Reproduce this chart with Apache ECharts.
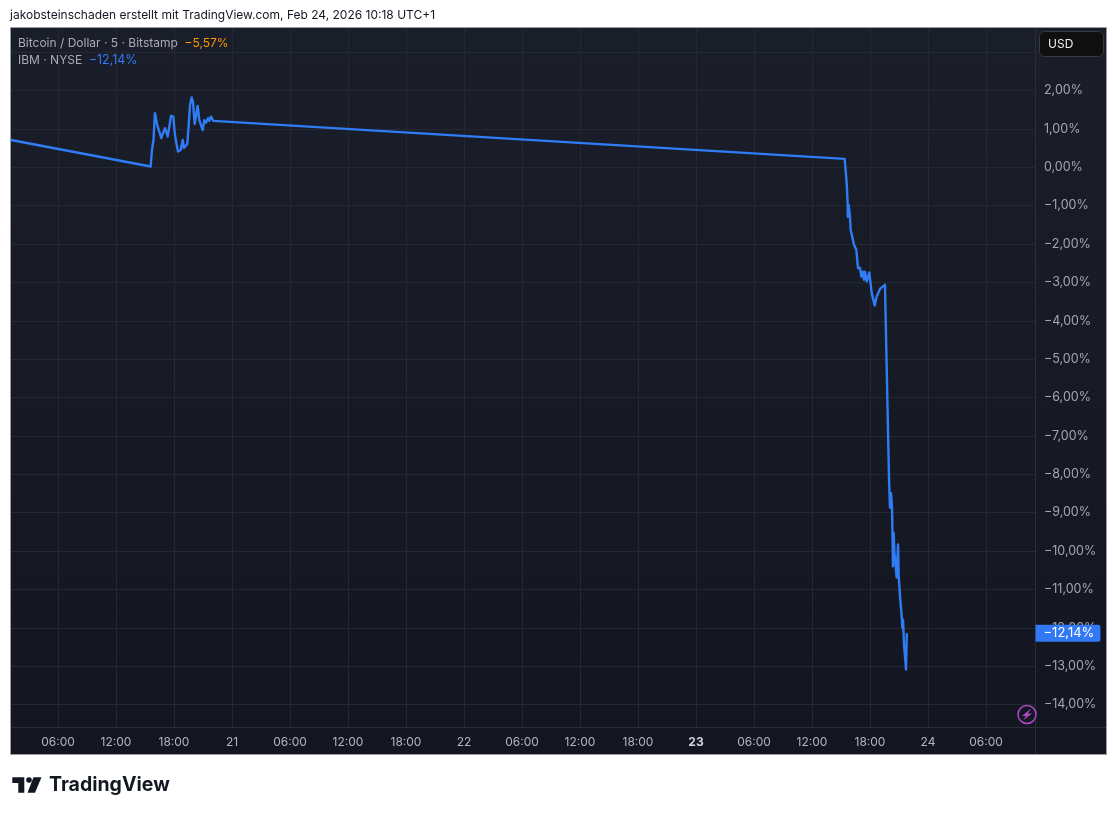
<!DOCTYPE html>
<html><head><meta charset="utf-8">
<style>html,body{margin:0;padding:0;background:#fff}#c{width:1117px;height:815px}</style>
<script src="https://cdn.jsdelivr.net/npm/echarts@6/dist/echarts.min.js"></script>
</head><body><div id="c"></div>
<script>
const headerText = 'jakobsteinschaden erstellt mit TradingView.com, Feb 24, 2026 10:18 UTC+1';
// hours since Feb 20 00:00 on the chart's (session-compressed) axis
const hours = [1.14,15.59,15.72,15.88,16.03,16.27,16.45,16.69,16.86,17.07,17.35,17.69,17.93,18.10,18.41,18.69,18.90,19.03,19.38,19.52,19.66,19.83,19.97,20.14,20.45,20.62,20.79,20.97,21.13,21.31,21.52,21.65,21.83,22.07,87.38,87.59,87.69,87.70,87.80,87.93,88.00,88.17,88.35,88.59,88.76,88.97,89.10,89.25,89.38,89.49,89.66,89.93,90.18,90.49,90.69,90.86,91.04,91.32,91.55,91.68,91.97,92.07,92.18,92.28,92.38,92.45,92.52,92.62,92.76,92.90,92.97,93.11,93.28,93.34,93.42,93.52,93.73,93.81];
const ibmPct = [0.71,0.02,0.45,0.71,1.41,1.10,1.05,0.76,0.89,1.02,0.80,1.34,1.32,0.84,0.41,0.45,0.71,0.50,0.61,1.10,1.62,1.82,1.70,1.13,1.60,1.23,1.19,0.97,1.23,1.16,1.28,1.21,1.32,1.21,0.22,-0.41,-0.94,-1.29,-0.98,-1.29,-1.63,-1.65,-2.02,-2.15,-2.63,-2.62,-2.85,-2.72,-2.93,-2.72,-2.98,-2.74,-3.28,-3.60,-3.37,-3.40,-3.17,-3.11,-3.06,-3.11,-8.14,-8.87,-8.49,-8.87,-10.40,-9.53,-10.01,-9.96,-10.69,-9.83,-10.66,-11.18,-11.70,-12.00,-11.79,-12.44,-13.09,-12.14];
const xTickHours = [6,12,18,24,30,36,42,48,54,60,66,72,78,84,90,96,102];
const xTickLabels = ['06:00','12:00','18:00','21','06:00','12:00','18:00','22','06:00','12:00','18:00','23','06:00','12:00','18:00','24','06:00'];
const yTicks = [3,2,1,0,-1,-2,-3,-4,-5,-6,-7,-8,-9,-10,-11,-12,-13,-14];
const lastValue = -12.14;
const xMin = 1.14, xMax = 107.07, yMin = -14.586, yMax = 3.63;

const FONT = 'Inter, "Noto Sans", sans-serif';
const fmtPct = v => (v < 0 ? '\u2212' : '') + Math.abs(v).toFixed(2).replace('.', ',') + '%';
const chart = echarts.init(document.getElementById('c'), null, {renderer:'canvas', width:1117, height:815});
const border = '#2a2e39';
chart.setOption({
  animation:false,
  backgroundColor:'#ffffff',
  textStyle:{fontFamily:FONT},
  grid:{left:11, right:82, top:28, bottom:88},
  xAxis:{type:'value', min:xMin, max:xMax,
    axisLine:{show:false}, axisTick:{show:false, customValues:xTickHours},
    splitLine:{show:true, lineStyle:{color:'#242833', width:1}},
    axisLabel:{customValues:xTickHours, margin:9, color:'#b2b5be', fontSize:12, fontFamily:FONT,
      formatter:v=>{const l=xTickLabels[xTickHours.indexOf(v)]; return l==='23' ? '{b|23}' : l;},
      rich:{b:{fontWeight:700, color:'#d1d4dc', fontSize:12, fontFamily:FONT}}}},
  yAxis:{type:'value', position:'right', min:yMin, max:yMax,
    axisLine:{show:false}, axisTick:{show:false, customValues:yTicks},
    splitLine:{show:true, lineStyle:{color:'#242833', width:1}},
    axisLabel:{customValues:yTicks, margin:9, color:'#a3a6af', fontSize:12.5, fontFamily:FONT, align:'left', formatter:v=>v===3?'':fmtPct(v)}},
  series:[{type:'line', name:'IBM', data:hours.map((h,i)=>[h,ibmPct[i]]), showSymbol:false, symbol:'none',
    lineStyle:{color:'#2f7cf6', width:2.4, join:'round'}, z:3,
    markPoint:{silent:true, symbol:'rect', symbolSize:1, itemStyle:{color:'rgba(0,0,0,0)'},
      data:[{coord:[xMax,lastValue], value:lastValue}],
      label:{show:true, position:'right', distance:0, formatter:()=>fmtPct(lastValue), color:'#fff', fontSize:13, fontFamily:FONT,
        backgroundColor:'#3179f5', padding:[2,6,2,8], borderRadius:[0,2,2,0], lineHeight:13}}}],
  graphic:[
    {type:'rect', z:-10, shape:{x:10.5,y:27.5,width:1096,height:727},
      style:{stroke:'#9a9da3', lineWidth:1, fill:new echarts.graphic.LinearGradient(0,0,0,1,[{offset:0,color:'#1a1e2a'},{offset:1,color:'#131620'}])}},
    {type:'line', z:5, shape:{x1:1035.5,y1:28,x2:1035.5,y2:754}, style:{stroke:border, lineWidth:1}},
    {type:'line', z:5, shape:{x1:11,y1:727.5,x2:1106,y2:727.5}, style:{stroke:border, lineWidth:1}},
    {type:'text', z:10, x:10, y:15.5, style:{text:headerText, fill:'#131722', font:'12px '+FONT, textVerticalAlign:'middle'}},
    {type:'text', z:10, x:18, y:43, style:{text:'{a|Bitcoin / Dollar \u00b7 5 \u00b7 Bitstamp}  {o|\u22125,57%}', textVerticalAlign:'middle',
      rich:{a:{fill:'#a9acb5',font:'12px '+FONT},o:{fill:'#ff9800',font:'12px '+FONT}}}},
    {type:'text', z:10, x:18, y:60, style:{text:'{a|IBM \u00b7 NYSE}  {o|\u221212,14%}', textVerticalAlign:'middle',
      rich:{a:{fill:'#a9acb5',font:'12px '+FONT},o:{fill:'#2f7cf6',font:'12.4px '+FONT}}}},
    {type:'rect', z:10, shape:{x:1039.5,y:31.5,width:64,height:25,r:5}, style:{fill:'#0f0f0f', stroke:'#363a45', lineWidth:1}},
    {type:'text', z:11, x:1048, y:44, style:{text:'USD', fill:'#eceef2', font:'12px '+FONT, textVerticalAlign:'middle'}},
    {type:'circle', z:6, shape:{cx:1027,cy:714.5,r:9}, style:{fill:'#131722', stroke:'#b046c4', lineWidth:1.5}},
    {type:'polygon', z:7, shape:{points:[[1031,708.5],[1022,716],[1026,716],[1023,720.5],[1032,713.5],[1028,713.5]]}, style:{fill:'#b046c4'}},
    {type:'polygon', z:10, shape:{points:[[12.3,777.3],[24.3,777.3],[24.3,792.7],[18.3,792.7],[18.3,782.9],[12.3,782.9]]}, style:{fill:'#131722'}},
    {type:'circle', z:10, shape:{cx:29,cy:780,r:2.8}, style:{fill:'#131722'}},
    {type:'polygon', z:10, shape:{points:[[33.5,777.3],[41.5,777.3],[35,792.7],[27.5,792.7]]}, style:{fill:'#131722'}},
    {type:'text', z:10, x:49, y:785, style:{text:'TradingView', fill:'#131722', font:'700 19.5px '+FONT, textVerticalAlign:'middle'}}
  ]
});
</script></body></html>
